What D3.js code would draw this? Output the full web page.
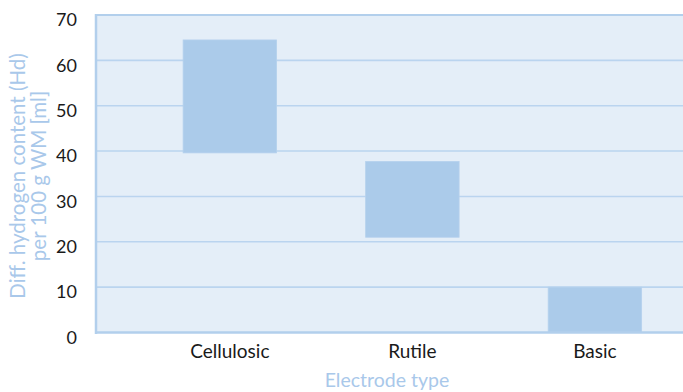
<!DOCTYPE html>
<html>
<head>
<meta charset="utf-8">
<script src="https://cdn.jsdelivr.net/npm/d3@7"></script>
<style>
  html, body { margin: 0; padding: 0; background: #fff; }
  svg { display: block; }
</style>
</head>
<body>
<svg id="chart" width="683" height="392"></svg>
<script>
// Hydrogen content ranges by electrode type
const categories = ["Cellulosic", "Rutile", "Basic"];
const rangeLow = [39.6, 21, 0];
const rangeHigh = [64.5, 37.7, 10];
const yTicks = [0, 10, 20, 30, 40, 50, 60, 70];

const svg = d3.select("#chart");
const plotLeft = 96, plotRight = 683, plotTop = 15, plotBottom = 332.5;

const x = d3.scaleBand()
  .domain(categories)
  .range([plotLeft, plotRight])
  .paddingInner(0.488)
  .paddingOuter(0.352)
  .align(0.678);

const y = d3.scaleLinear().domain([0, 70]).range([plotBottom, plotTop]);

const font = "Lato, 'Open Sans', sans-serif";
const lightBlue = "#a9c8ea";

// plot background
svg.append("rect")
  .attr("x", plotLeft).attr("y", plotTop)
  .attr("width", plotRight - plotLeft).attr("height", plotBottom - plotTop)
  .attr("fill", "#e4eef8");

// gridlines
svg.append("g")
  .selectAll("line")
  .data(yTicks.filter(d => d > 0 && d < 70))
  .join("line")
  .attr("x1", plotLeft).attr("x2", plotRight)
  .attr("y1", d => y(d)).attr("y2", d => y(d))
  .attr("stroke", "#bad4ef")
  .attr("stroke-width", 1.6);

// range bars
svg.append("g")
  .selectAll("rect")
  .data(categories)
  .join("rect")
  .attr("x", d => x(d))
  .attr("width", x.bandwidth())
  .attr("y", (d, i) => y(rangeHigh[i]))
  .attr("height", (d, i) => y(rangeLow[i]) - y(rangeHigh[i]))
  .attr("fill", "#abcbea")
  .attr("stroke", "#b5d1ed")
  .attr("stroke-width", 0.8);

// frame: top, left and bottom edges
const frameColor = "#b2cfec";
svg.append("line")
  .attr("x1", plotLeft).attr("x2", plotRight)
  .attr("y1", y(70)).attr("y2", y(70))
  .attr("stroke", frameColor).attr("stroke-width", 2);
svg.append("line")
  .attr("x1", plotLeft).attr("x2", plotLeft)
  .attr("y1", plotTop - 1).attr("y2", plotBottom + 1.5)
  .attr("stroke", frameColor).attr("stroke-width", 2.5);
svg.append("line")
  .attr("x1", plotLeft).attr("x2", plotRight)
  .attr("y1", plotBottom).attr("y2", plotBottom)
  .attr("stroke", frameColor).attr("stroke-width", 2.5);

// y axis labels
const yAxis = d3.axisLeft(y).tickValues(yTicks).tickSize(0).tickPadding(0);
const yg = svg.append("g").attr("transform", `translate(${plotLeft - 19},0)`).call(yAxis);
yg.select(".domain").remove();
yg.selectAll("text")
  .attr("font-family", font)
  .attr("font-size", 18)
  .attr("fill", "#1a1a1a")
  .attr("dy", "0.68em")
  .attr("y", -1.5);

// x axis labels
const xAxis = d3.axisBottom(x).tickSize(0).tickPadding(0);
const xg = svg.append("g").attr("transform", `translate(0,${plotBottom})`).call(xAxis);
xg.select(".domain").remove();
xg.selectAll("text")
  .attr("font-family", font)
  .attr("font-size", 19)
  .attr("fill", "#1a1a1a")
  .attr("dy", 0)
  .attr("y", 25);

// axis titles
svg.append("text")
  .attr("x", 387).attr("y", 387)
  .attr("text-anchor", "middle")
  .attr("font-family", font).attr("font-size", 19.5)
  .attr("fill", lightBlue)
  .text("Electrode type");

const yTitle = svg.append("text")
  .attr("transform", `translate(25,176) rotate(-90)`)
  .attr("text-anchor", "middle")
  .attr("font-family", font).attr("font-size", 20.5)
  .attr("fill", lightBlue);
yTitle.append("tspan").attr("x", 0).attr("dy", 0).text("Diff. hydrogen content (Hd)");
yTitle.append("tspan").attr("x", 0).attr("dy", 20.5).text("per 100 g WM [ml]");
</script>
</body>
</html>
